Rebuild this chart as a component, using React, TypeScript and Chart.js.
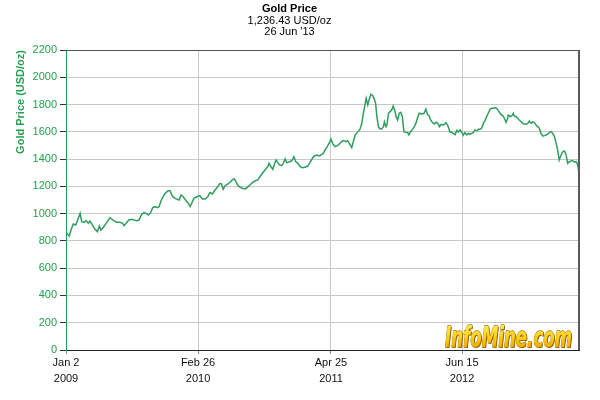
import React, { useEffect, useRef } from "react";
import { Chart, registerables } from "chart.js";

Chart.register(...registerables);

// ---- data (days since Jan 2 2009, price USD/oz) ----
const days: number[] = [
  0, 4, 10, 16, 23, 31, 37, 45, 50, 57, 64, 71, 76, 84, 92, 100, 106, 111, 119, 129,
  140, 150, 161, 172, 180, 185, 193, 200, 209, 216, 225, 232, 241, 248, 255, 262, 269, 276, 283, 291,
  296, 302, 312, 318, 325, 331, 338, 347, 354, 360, 366, 373, 382, 389, 395, 400, 407, 416, 423,
  426, 434, 442, 451, 458, 466, 474, 483, 490, 495, 500, 506, 514, 522, 529, 535, 540, 546, 554, 561,
  570, 577, 585, 593, 601, 610, 617, 625, 633, 642, 646, 652, 658, 663, 668, 674, 679, 686, 691, 697,
  702, 707, 716, 720, 725, 731, 737, 745, 752, 760, 769, 776, 784, 790, 798, 805, 811, 819, 824, 831,
  838, 843, 849, 856,
  864, 872, 879, 885, 891, 896, 901, 909, 914, 920, 927, 935, 941, 946, 951, 955, 960, 964, 970, 976,
  981, 985, 989, 994, 999, 1004, 1010, 1013, 1018, 1021, 1026, 1031, 1036, 1041, 1047, 1050, 1055, 1060, 1065, 1070,
  1075, 1081, 1087, 1091, 1096, 1102, 1108, 1113, 1118, 1124, 1132, 1139, 1145, 1150, 1155, 1160, 1166, 1172, 1177, 1183,
  1188, 1193, 1199, 1204, 1209, 1214, 1222, 1227, 1232, 1238, 1243, 1248, 1254, 1259, 1264,
  1269, 1275, 1280, 1285, 1291, 1296, 1301, 1307, 1312, 1317, 1322, 1328, 1333, 1338, 1344, 1349, 1354, 1360, 1365, 1370,
  1375, 1381, 1386, 1391, 1397, 1400, 1404, 1407, 1413, 1418, 1423, 1426, 1432, 1437, 1442, 1448, 1453, 1458, 1464, 1469,
  1474, 1480, 1485, 1490, 1495, 1501, 1506, 1511, 1517, 1522, 1527, 1533, 1538, 1543, 1548, 1554, 1558, 1563, 1566, 1569,
  1575, 1580, 1586, 1591, 1596, 1601, 1607, 1612, 1617, 1623, 1628, 1632,
];

const prices: number[] = [
  873, 851, 836, 880, 924, 917, 953, 1002, 941, 936, 948, 929, 946, 917, 885, 868, 909, 880, 900, 934,
  970, 953, 936, 936, 929, 912, 936, 953, 958, 953, 948, 953, 995, 1007, 1002, 990, 1007, 1044, 1051, 1044,
  1051, 1093, 1137, 1154, 1168, 1168, 1129, 1112, 1105, 1100, 1137, 1124, 1095, 1076, 1051, 1076, 1112, 1124, 1129,
  1132, 1107, 1107, 1124, 1154, 1144, 1173, 1198, 1222, 1217, 1178, 1205, 1217, 1230, 1247, 1256, 1239, 1210, 1193, 1186,
  1181, 1193, 1210, 1227, 1239, 1247, 1271, 1296, 1320, 1344, 1369, 1344, 1325, 1362, 1393, 1374, 1357, 1352, 1369, 1401,
  1374, 1376, 1386, 1393, 1418, 1381, 1369, 1344, 1337, 1340, 1349, 1374, 1406, 1423, 1430, 1423, 1430, 1442, 1467, 1491,
  1520, 1547, 1510, 1491,
  1498, 1516, 1533, 1535, 1528, 1535, 1516, 1484, 1528, 1577, 1596, 1618, 1662, 1736, 1797, 1846, 1797, 1833, 1875, 1865,
  1838, 1809, 1711, 1638, 1621, 1621, 1638, 1674, 1638, 1650, 1736, 1748, 1760, 1789, 1748, 1711, 1687, 1736, 1743, 1711,
  1601, 1596, 1594, 1577, 1601, 1618, 1638, 1662, 1699, 1736, 1731, 1736, 1767, 1728, 1718, 1687, 1667, 1657, 1670, 1662,
  1638, 1655, 1650, 1655, 1667, 1650, 1596, 1596, 1589, 1580, 1610, 1598, 1613, 1595, 1575,
  1594, 1577, 1589, 1582, 1589, 1596, 1613, 1608, 1618, 1618, 1626, 1662, 1682, 1711, 1740, 1765, 1772, 1772, 1777, 1772,
  1755, 1736, 1723, 1716, 1687, 1670, 1692, 1723, 1711, 1716, 1736, 1716, 1711, 1699, 1687, 1674, 1662, 1657, 1655, 1662,
  1679, 1662, 1674, 1667, 1650, 1638, 1626, 1589, 1569, 1572, 1577, 1584, 1596, 1601, 1589, 1565, 1528, 1479, 1437, 1393,
  1430, 1454, 1459, 1430, 1369, 1381, 1386, 1389, 1379, 1381, 1357, 1300,
];

const tickDays: number[] = [0, 420, 843, 1260];
const tickLabels: string[][] = [
  ["Jan 2", "2009"],
  ["Feb 26", "2010"],
  ["Apr 25", "2011"],
  ["Jun 15", "2012"],
];

const titleText = "Gold Price";
const subtitleLines = ["1,236.43 USD/oz", "26 Jun '13"];
const yAxisTitle = "Gold Price (USD/oz)";
const watermarkText = "InfoMine.com";

const GREEN = "#22a04f";
const LINE_GREEN = "#2f9d5e";
const FONT = "'Liberation Sans', Arial, sans-serif";

const framePlugin = {
  id: "frameAndMark",
  beforeDatasetsDraw(chart: any) {
    const { ctx, chartArea } = chart;
    const { right, bottom } = chartArea;
    ctx.save();
    ctx.font = `italic bold 26px 'DejaVu Sans', sans-serif`;
    const w = ctx.measureText(watermarkText).width;
    const targetW = 127;
    const sx = targetW / w;
    ctx.translate(right - 7 - targetW, bottom - 3);
    ctx.scale(sx, 1.12);
    ctx.textBaseline = "alphabetic";
    ctx.textAlign = "left";
    ctx.lineJoin = "round";
    ctx.fillStyle = "#8a5a00";
    ctx.fillText(watermarkText, 1.6, 1.2);
    ctx.strokeStyle = "#b07a00";
    ctx.lineWidth = 1.2;
    ctx.strokeText(watermarkText, 0, 0);
    const g = ctx.createLinearGradient(0, -19, 0, 0);
    g.addColorStop(0, "#ffe85a");
    g.addColorStop(0.5, "#ffd21c");
    g.addColorStop(1, "#f0ac00");
    ctx.fillStyle = g;
    ctx.fillText(watermarkText, 0, 0);
    ctx.restore();
  },
  afterDraw(chart: any) {
    const { ctx, chartArea } = chart;
    const { left, top, right, bottom } = chartArea;
    ctx.save();
    ctx.strokeStyle = "#555";
    ctx.lineWidth = 1;
    ctx.beginPath();
    ctx.moveTo(left, top + 0.5);
    ctx.lineTo(right, top + 0.5);
    ctx.stroke();
    ctx.lineWidth = 2;
    ctx.strokeStyle = "#5a5a5a";
    ctx.beginPath();
    ctx.moveTo(right, top);
    ctx.lineTo(right, bottom);
    ctx.stroke();
    ctx.restore();
  },
};

export default function App() {
  const ref = useRef<HTMLCanvasElement | null>(null);

  useEffect(() => {
    if (!ref.current) return;
    const chart = new Chart(ref.current, {
      type: "line",
      data: {
        datasets: [
          {
            label: "Gold Price",
            data: days.map((d, i) => ({ x: d, y: prices[i] })),
            borderColor: LINE_GREEN,
            borderWidth: 1.5,
            pointRadius: 0,
            fill: false,
            tension: 0,
          },
        ],
      },
      options: {
        responsive: false,
        animation: false,
        layout: { padding: { left: 0, right: 21, top: 0, bottom: 0 } },
        plugins: {
          legend: { display: false },
          tooltip: { enabled: false },
          title: {
            display: true,
            text: titleText,
            color: "#000",
            font: { family: FONT, size: 11, weight: "bold", lineHeight: 1.2 },
            padding: { top: 2, bottom: 0 },
          },
          subtitle: {
            display: true,
            text: subtitleLines,
            color: "#000",
            font: { family: FONT, size: 11, lineHeight: 1.0 },
            padding: { top: 0, bottom: 12.8 },
          },
        },
        scales: {
          x: {
            type: "linear",
            min: 0,
            max: days[days.length - 1],
            afterBuildTicks: (scale: any) => {
              scale.ticks = tickDays.map((v) => ({ value: v }));
            },
            afterFit: (scale: any) => {
              scale.height = 50;
            },
            ticks: {
              autoSkip: false,
              maxRotation: 0,
              padding: 1,
              color: "#111",
              font: { family: FONT, size: 11, lineHeight: 1.45 },
              callback: (value: any) => {
                const i = tickDays.indexOf(Number(value));
                return i >= 0 ? tickLabels[i] : "";
              },
            },
            grid: {
              color: "#c8c8c8",
              tickColor: "#888",
              tickLength: 4,
            },
            border: { color: "#222", width: 1 },
          },
          y: {
            min: 0,
            max: 2200,
            afterFit: (scale: any) => {
              scale.width = 66;
            },
            ticks: {
              stepSize: 200,
              padding: 3,
              color: GREEN,
              font: { family: FONT, size: 11 },
              callback: (value: any) => String(value),
            },
            grid: {
              color: "#c8c8c8",
              tickColor: "#333",
              tickLength: 6,
            },
            border: { color: GREEN, width: 1 },
            title: {
              display: true,
              text: yAxisTitle,
              align: "end",
              color: GREEN,
              font: { family: FONT, size: 11, weight: "bold", lineHeight: 1.2 },
              padding: { top: 14, bottom: 0 },
            },
          },
        },
      },
      plugins: [framePlugin],
    } as any);
    return () => chart.destroy();
  }, []);

  return (
    <div style={{ position: "fixed", left: 0, top: 0, width: 600, height: 400, background: "#fff" }}>
      <canvas ref={ref} width={600} height={400} />
    </div>
  );
}
